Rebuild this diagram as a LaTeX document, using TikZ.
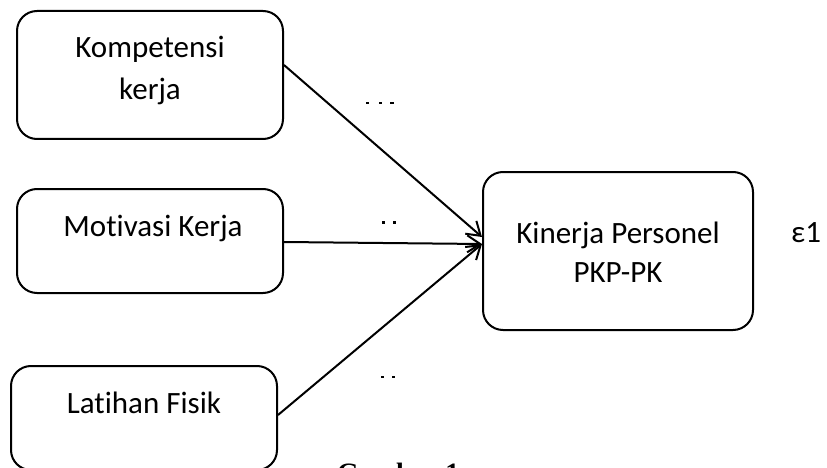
\documentclass[tikz,border=0pt]{standalone}
\usepackage{fontspec}
\setmainfont[Ligatures=NoCommon]{Carlito}
\usetikzlibrary{arrows.meta}
\begin{document}
\begin{tikzpicture}[x=1pt,y=-1pt,
  box/.style={draw, line width=2pt, rounded corners=20pt, minimum width=266pt, inner sep=0pt},
  lbl/.style={font=\fontsize{31}{36}\selectfont, anchor=base, inner sep=0pt},
  conn/.style={line width=2pt, -{Straight Barb[length=13pt,width=17pt,line width=2pt]}}]
\useasboundingbox (0,0) rectangle (827,468);
\clip (0,0) rectangle (827,468);
% boxes
\node[box, minimum height=128pt] (K) at (150,75) {};
\node[box, minimum height=104pt] (M) at (150,241) {};
\node[box, minimum height=104pt] (L) at (144,418) {};
\node[box, minimum width=270pt, minimum height=158pt] (P) at (618,251) {};
% texts
\node[lbl] (tK1) at (150,58) {Kompetensi};
\node[lbl] (tK2) at (150,100) {kerja};
\node[lbl] (tM) at (153,236) {Motivasi Kerja};
\node[lbl] (tL) at (144,413) {Latihan Fisik};
\node[lbl] (tP1) at (618,243) {Kinerja Personel};
\node[lbl] (tP2) at (618,282) {PKP-PK};
\node[lbl, anchor=base west] (eps) at (791,242) {ε1};
\node[font=\fontsize{28}{32}\selectfont, anchor=base west, inner sep=0pt] (cap) at (337,482) {\fontspec{Liberation Serif}\bfseries Gambar 1};
% connectors
\draw[conn] ([yshift=10pt]K.east) -- ([yshift=14pt]P.west);
\draw[conn] ([yshift=-1pt]M.east) -- ([yshift=7pt]P.west);
\draw[conn] ([yshift=3pt]L.east) -- ([yshift=7pt]P.west);
% small marks
\fill (366,102) rectangle (369,104.5);
\fill (379,102) rectangle (382,104.5);
\fill (390,102) rectangle (394,104.5);
\fill (382,220.5) rectangle (385,223.5);
\fill (393,220.5) rectangle (396,223.5);
\fill (380.5,376) rectangle (383.5,378);
\fill (391.5,376) rectangle (394.5,378);
\end{tikzpicture}
\end{document}
